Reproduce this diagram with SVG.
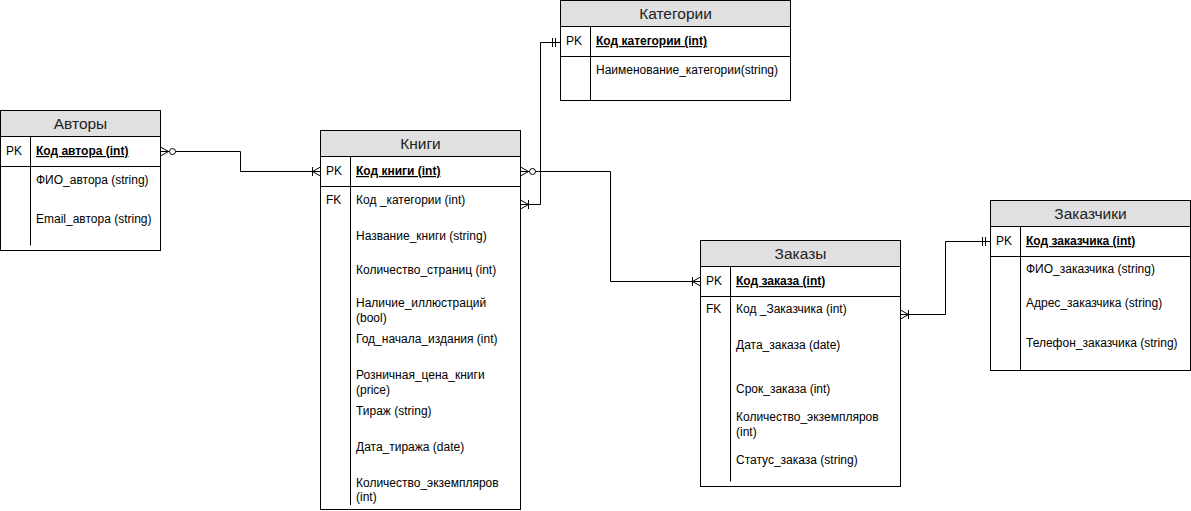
<svg xmlns="http://www.w3.org/2000/svg" width="1191" height="511" viewBox="0 0 1191 511">
<style>
.box{fill:#ffffff;stroke:#000000;stroke-width:1}
.hdr{fill:#e0e0e0;stroke:#000000;stroke-width:1}
.ln{stroke:#000000;stroke-width:1;fill:none}
.ttl{font-family:"Liberation Sans",Arial,sans-serif;font-size:15.5px;fill:#222222;text-anchor:middle}
.t{font-family:"Liberation Sans",Arial,sans-serif;font-size:12px;fill:#000000}
.k{font-family:"Liberation Sans",Arial,sans-serif;font-size:12px;fill:#000000;font-weight:bold;text-decoration:underline}
.conn{stroke:#000000;stroke-width:1;fill:none}
</style>
<defs>
<marker id="zeroMany" markerUnits="userSpaceOnUse" markerWidth="20" markerHeight="16" viewBox="-16 -8 20 16" refX="0" refY="0" orient="auto-start-reverse" overflow="visible">
<path d="M0 -4.5 L-8 0 L0 4.5 M0 0 H-9" fill="none" stroke="#000" stroke-width="1"/>
<circle cx="-12" cy="0" r="3" fill="#fff" stroke="#000" stroke-width="1"/>
</marker>
<marker id="oneMany" markerUnits="userSpaceOnUse" markerWidth="20" markerHeight="16" viewBox="-16 -8 20 16" refX="0" refY="0" orient="auto-start-reverse" overflow="visible">
<path d="M0 -4.5 L-8 0 L0 4.5 M-8 -4.5 V4.5" fill="none" stroke="#000" stroke-width="1"/>
</marker>
<marker id="mandOne" markerUnits="userSpaceOnUse" markerWidth="20" markerHeight="16" viewBox="-16 -8 20 16" refX="0" refY="0" orient="auto-start-reverse" overflow="visible">
<path d="M-5 -4.5 V4.5 M-8 -4.5 V4.5" fill="none" stroke="#000" stroke-width="1"/>
</marker>
</defs>
<rect width="1191" height="511" fill="#ffffff"/>

<g id="connectors">
<path class="conn" d="M160.5 151.5 H240.5 V171.5 H320.5" marker-start="url(#zeroMany)" marker-end="url(#oneMany)"/>
<path class="conn" d="M520.5 204.5 H540.5 V42.5 H560.5" marker-start="url(#oneMany)" marker-end="url(#mandOne)"/>
<path class="conn" d="M520.5 171.5 H610.5 V281.5 H700.5" marker-start="url(#zeroMany)" marker-end="url(#oneMany)"/>
<path class="conn" d="M900.5 314.5 H945.5 V241.5 H990.5" marker-start="url(#oneMany)" marker-end="url(#mandOne)"/>
</g>

<g id="avtory">
<rect class="box" x="0.5" y="110.5" width="160" height="140"/>
<rect class="hdr" x="0.5" y="110.5" width="160" height="26"/>
<line class="ln" x1="0.5" y1="166.5" x2="160.5" y2="166.5"/>
<line class="ln" x1="30.5" y1="136.5" x2="30.5" y2="245.5"/>
<text class="ttl" x="80.5" y="128.5">Авторы</text>
<text class="t" x="6" y="155">PK</text>
<text class="k" x="36" y="155">Код автора (int)</text>
<text class="t" x="36" y="184">ФИО_автора (string)</text>
<text class="t" x="36" y="223">Email_автора (string)</text>
</g>

<g id="knigi">
<rect class="box" x="320.5" y="130.5" width="200" height="379"/>
<rect class="hdr" x="320.5" y="130.5" width="200" height="26"/>
<line class="ln" x1="320.5" y1="186.5" x2="520.5" y2="186.5"/>
<line class="ln" x1="350.5" y1="156.5" x2="350.5" y2="505"/>
<text class="ttl" x="420.5" y="148.5">Книги</text>
<text class="t" x="326" y="175">PK</text>
<text class="k" x="356" y="175">Код книги (int)</text>
<text class="t" x="326" y="204">FK</text>
<text class="t" x="356" y="204">Код _категории (int)</text>
<text class="t" x="356" y="240">Название_книги (string)</text>
<text class="t" x="356" y="274">Количество_страниц (int)</text>
<text class="t" x="356" y="307">Наличие_иллюстраций</text>
<text class="t" x="356" y="322">(bool)</text>
<text class="t" x="356" y="343">Год_начала_издания (int)</text>
<text class="t" x="356" y="379">Розничная_цена_книги</text>
<text class="t" x="356" y="394">(price)</text>
<text class="t" x="356" y="415">Тираж (string)</text>
<text class="t" x="356" y="451">Дата_тиража (date)</text>
<text class="t" x="356" y="487">Количество_экземпляров</text>
<text class="t" x="356" y="501">(int)</text>
</g>

<g id="kategorii">
<rect class="box" x="560.5" y="0.5" width="230" height="100"/>
<rect class="hdr" x="560.5" y="0.5" width="230" height="26"/>
<line class="ln" x1="560.5" y1="56.5" x2="790.5" y2="56.5"/>
<line class="ln" x1="590.5" y1="26.5" x2="590.5" y2="100.5"/>
<text class="ttl" x="675.5" y="18.5">Категории</text>
<text class="t" x="566" y="45">PK</text>
<text class="k" x="596" y="45">Код категории (int)</text>
<text class="t" x="596" y="74">Наименование_категории(string)</text>
</g>

<g id="zakazy">
<rect class="box" x="700.5" y="240.5" width="200" height="246"/>
<rect class="hdr" x="700.5" y="240.5" width="200" height="26"/>
<line class="ln" x1="700.5" y1="296.5" x2="900.5" y2="296.5"/>
<line class="ln" x1="730.5" y1="266.5" x2="730.5" y2="481.5"/>
<text class="ttl" x="800.5" y="258.5">Заказы</text>
<text class="t" x="706" y="285">PK</text>
<text class="k" x="736" y="285">Код заказа (int)</text>
<text class="t" x="706" y="313">FK</text>
<text class="t" x="736" y="313">Код _Заказчика (int)</text>
<text class="t" x="736" y="349">Дата_заказа (date)</text>
<text class="t" x="736" y="393">Срок_заказа (int)</text>
<text class="t" x="736" y="421">Количество_экземпляров</text>
<text class="t" x="736" y="436">(int)</text>
<text class="t" x="736" y="464">Статус_заказа (string)</text>
</g>

<g id="zakazchiki">
<rect class="box" x="990.5" y="200.5" width="200" height="170"/>
<rect class="hdr" x="990.5" y="200.5" width="200" height="26"/>
<line class="ln" x1="990.5" y1="256.5" x2="1190.5" y2="256.5"/>
<line class="ln" x1="1020.5" y1="226.5" x2="1020.5" y2="370.5"/>
<text class="ttl" x="1090.5" y="218.5">Заказчики</text>
<text class="t" x="996" y="245">PK</text>
<text class="k" x="1026" y="245">Код заказчика (int)</text>
<text class="t" x="1026" y="273">ФИО_заказчика (string)</text>
<text class="t" x="1026" y="307">Адрес_заказчика (string)</text>
<text class="t" x="1026" y="347">Телефон_заказчика (string)</text>
</g>
</svg>
